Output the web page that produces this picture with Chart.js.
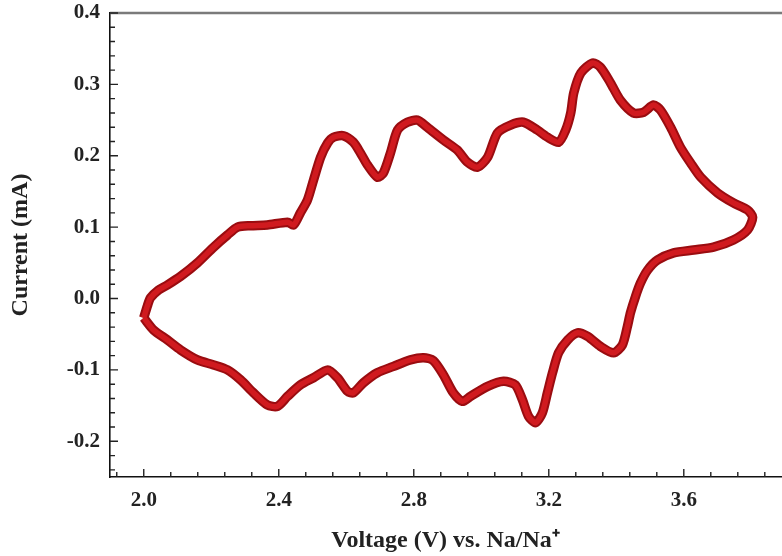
<!DOCTYPE html>
<html>
<head>
<meta charset="utf-8">
<script src="https://cdn.jsdelivr.net/npm/chart.js@4"></script>
<style>
  html, body { margin: 0; padding: 0; background: #fff; }
  #wrap { width: 782px; height: 556px; }
</style>
</head>
<body>
<div id="wrap"><canvas id="cv"></canvas></div>
<script>
// Anodic sweep (2.0 V -> 3.8 V)
const anodicV = [2.000, 2.011, 2.020, 2.044, 2.070, 2.109, 2.159, 2.207, 2.248, 2.278, 2.316, 2.366, 2.426, 2.444,
  2.464, 2.485, 2.503, 2.524, 2.545, 2.562, 2.592, 2.621, 2.642, 2.663, 2.692, 2.710, 2.731, 2.752, 2.781, 2.811,
  2.840, 2.888, 2.929, 2.959, 2.989, 3.019, 3.048, 3.087, 3.125, 3.166, 3.196, 3.229, 3.250, 3.265, 3.274, 3.295,
  3.330, 3.353, 3.383, 3.412, 3.451, 3.481, 3.510, 3.531, 3.561, 3.590, 3.620, 3.650, 3.700, 3.747, 3.789, 3.804];
const anodicI = [-0.027, -0.010, 0.001, 0.012, 0.019, 0.031, 0.050, 0.072, 0.089, 0.100, 0.102, 0.103, 0.107, 0.103,
  0.120, 0.138, 0.166, 0.198, 0.218, 0.226, 0.228, 0.219, 0.204, 0.187, 0.170, 0.176, 0.204, 0.236, 0.247, 0.250,
  0.240, 0.222, 0.208, 0.191, 0.184, 0.198, 0.232, 0.243, 0.247, 0.236, 0.226, 0.219, 0.236, 0.260, 0.288, 0.316,
  0.330, 0.324, 0.302, 0.278, 0.260, 0.261, 0.271, 0.264, 0.240, 0.212, 0.190, 0.170, 0.148, 0.134, 0.124, 0.114];

// Cathodic sweep (3.8 V -> 2.0 V)
const cathodicV = [3.789, 3.747, 3.688, 3.629, 3.570, 3.522, 3.493, 3.472, 3.457, 3.442, 3.433, 3.418, 3.392, 3.353,
  3.315, 3.285, 3.256, 3.229, 3.211, 3.196, 3.181, 3.161, 3.140, 3.122, 3.101, 3.066, 3.019, 2.968, 2.944, 2.917,
  2.888, 2.858, 2.829, 2.790, 2.740, 2.692, 2.651, 2.621, 2.604, 2.574, 2.545, 2.503, 2.464, 2.426, 2.396, 2.366,
  2.325, 2.287, 2.248, 2.207, 2.159, 2.109, 2.070, 2.029, 2.000];
const cathodicI = [0.096, 0.082, 0.072, 0.068, 0.064, 0.054, 0.040, 0.022, 0.003, -0.020, -0.039, -0.065, -0.076, -0.067,
  -0.053, -0.048, -0.058, -0.076, -0.104, -0.132, -0.160, -0.174, -0.165, -0.142, -0.121, -0.116, -0.123, -0.137, -0.144, -0.132,
  -0.107, -0.087, -0.083, -0.086, -0.095, -0.104, -0.118, -0.132, -0.130, -0.111, -0.100, -0.111, -0.121, -0.137, -0.151, -0.149,
  -0.132, -0.114, -0.100, -0.093, -0.086, -0.072, -0.058, -0.044, -0.027];

const xTicks = [2.0, 2.4, 2.8, 3.2, 3.6];
const xTickLabels = ['2.0', '2.4', '2.8', '3.2', '3.6'];
const yTicks = [-0.2, -0.1, 0.0, 0.1, 0.2, 0.3, 0.4];
const yTickLabels = ['-0.2', '-0.1', '0.0', '0.1', '0.2', '0.3', '0.4'];

const loop = [];
anodicV.forEach((v, i) => loop.push({ x: v, y: anodicI[i] }));
cathodicV.forEach((v, i) => loop.push({ x: v, y: cathodicI[i] }));

const serif = "'Liberation Serif', 'Times New Roman', serif";

// inward tick marks + grey top frame line
const frameTicks = {
    id: 'frameTicks',
    afterDatasetsDraw(chart) {
        const { ctx, chartArea: a, scales: { x, y } } = chart;
        ctx.save();
        ctx.strokeStyle = '#7a7a7a';
        ctx.lineWidth = 2.5;
        ctx.beginPath();
        ctx.moveTo(a.left, a.top);
        ctx.lineTo(a.right + 2, a.top);
        ctx.stroke();

        ctx.strokeStyle = '#222';
        ctx.lineWidth = 1.4;
        ctx.beginPath();
        for (let k = 24; k <= 48; k++) {
            const px = x.getPixelForValue(k * 0.08);
            const len = k % 5 === 0 ? 8 : 5;
            ctx.moveTo(px, a.bottom);
            ctx.lineTo(px, a.bottom - len);
        }
        for (let k = -12; k <= 20; k++) {
            const py = y.getPixelForValue(k * 0.02);
            const len = k % 5 === 0 ? 8 : 5;
            ctx.moveTo(a.left, py);
            ctx.lineTo(a.left + len, py);
        }
        ctx.stroke();
        ctx.restore();
    }
};

// fixed box sizes so the plot area lands where the figure has it
function fixX(s) { s.height = 79; s.paddingLeft = 0; s.paddingRight = 0; }
function fixY(s) { s.width = 110; s.paddingTop = 0; s.paddingBottom = 0; }

new Chart(document.getElementById('cv'), {
    type: 'scatter',
    data: {
        datasets: [
            // first dataset is painted last (on top)
            { data: loop, showLine: true, borderColor: '#d01a1f', borderWidth: 5.5, pointRadius: 0, tension: 0.25 },
            { data: loop, showLine: true, borderColor: '#9a0c10', borderWidth: 9.5, pointRadius: 0, tension: 0.25 }
        ]
    },
    options: {
        responsive: true,
        maintainAspectRatio: false,
        animation: false,
        layout: { autoPadding: false, padding: { top: 13, right: 1, left: 0, bottom: 0 } },
        plugins: { legend: { display: false }, tooltip: { enabled: false } },
        scales: {
            x: {
                type: 'linear', min: 1.9, max: 3.888,
                afterFit: fixX,
                afterBuildTicks: s => { s.ticks = xTicks.map(v => ({ value: v })); },
                grid: { display: false, drawTicks: false },
                border: { display: true, color: '#111', width: 1.6 },
                ticks: {
                    padding: 11, color: '#222', maxRotation: 0,
                    font: { family: serif, size: 21, weight: 'bold' },
                    callback: (v, i) => xTickLabels[i]
                },
                title: {
                    display: true, text: 'Voltage (V) vs. Na/Na\u207A', color: '#222',
                    font: { family: serif, size: 24, weight: 'bold' },
                    padding: { top: 0, bottom: 1 }
                }
            },
            y: {
                type: 'linear', min: -0.25, max: 0.4,
                afterFit: fixY,
                afterBuildTicks: s => { s.ticks = yTicks.map(v => ({ value: v })); },
                grid: { display: false, drawTicks: false },
                border: { display: true, color: '#111', width: 1.6 },
                ticks: {
                    padding: 10, color: '#222',
                    font: { family: serif, size: 21, weight: 'bold' },
                    callback: (v, i) => yTickLabels[i]
                },
                title: {
                    display: true, text: 'Current (mA)', color: '#222',
                    font: { family: serif, size: 24, weight: 'bold' },
                    padding: { top: 6, bottom: 0 }
                }
            }
        }
    },
    plugins: [frameTicks]
});
</script>
</body>
</html>
